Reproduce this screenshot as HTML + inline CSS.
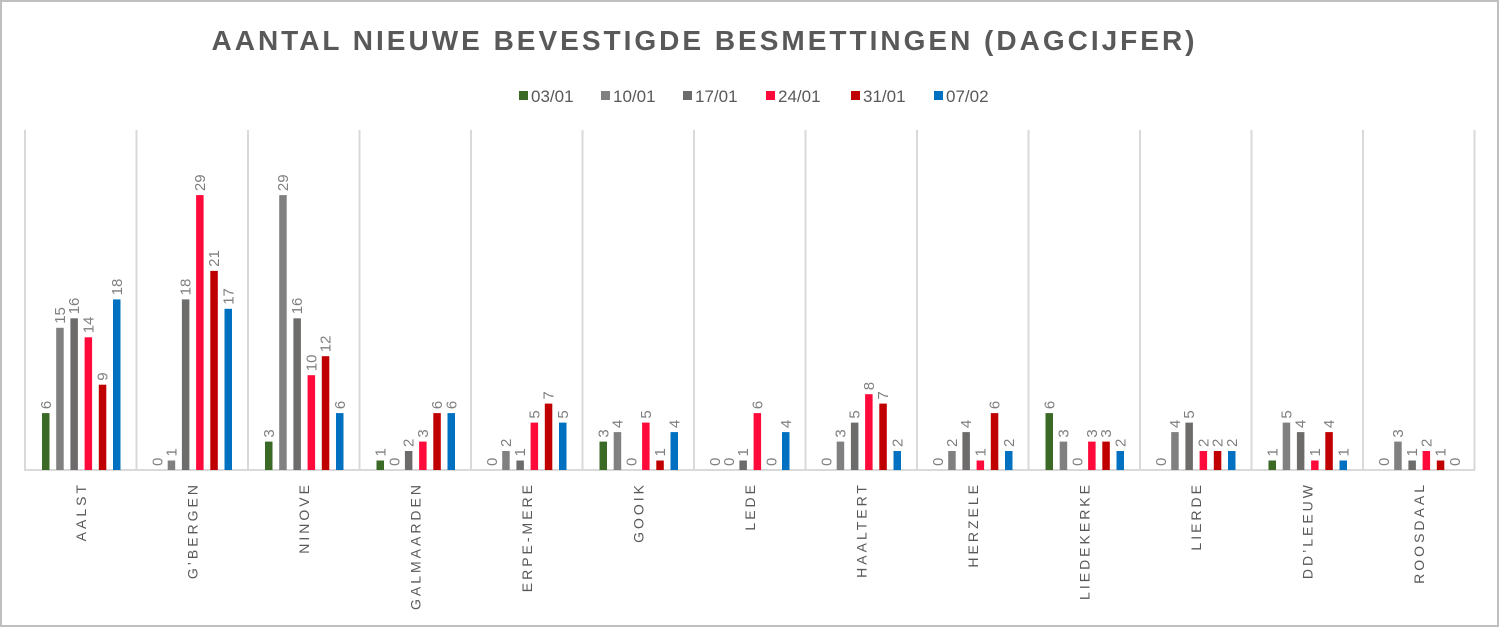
<!DOCTYPE html>
<html><head><meta charset="utf-8"><style>
html,body{margin:0;padding:0;background:#fff}
svg{display:block}
text{font-family:"Liberation Sans",sans-serif}
.v{font-size:15px;fill:#7f7f7f}
.c{font-size:14px;fill:#595959;letter-spacing:3px}
.l{font-size:17px;fill:#595959}
</style></head><body>
<svg width="1500" height="628" viewBox="0 0 1500 628" xmlns="http://www.w3.org/2000/svg">
<rect x="1" y="1" width="1497" height="625" fill="#fff" stroke="#bfbfbf" stroke-width="2"/>
<text x="703" y="50" text-anchor="middle" textLength="983" lengthAdjust="spacing" style="font-size:28px;font-weight:bold;fill:#595959">AANTAL NIEUWE BEVESTIGDE BESMETTINGEN (DAGCIJFER)</text>
<g class="l">
<rect x="519" y="91" width="9" height="9" fill="#3b6a26"/><text x="531" y="102">03/01</text>
<rect x="601" y="91" width="9" height="9" fill="#808080"/><text x="613" y="102">10/01</text>
<rect x="683" y="91" width="9" height="9" fill="#6e6b6b"/><text x="695" y="102">17/01</text>
<rect x="766" y="91" width="9" height="9" fill="#ff0a3a"/><text x="778" y="102">24/01</text>
<rect x="851" y="91" width="9" height="9" fill="#c00000"/><text x="863" y="102">31/01</text>
<rect x="934" y="91" width="9" height="9" fill="#0070c0"/><text x="946" y="102">07/02</text>
</g>
<g stroke="#d9d9d9" stroke-width="2">
<line x1="25" y1="130" x2="25" y2="470"/><line x1="136.5" y1="130" x2="136.5" y2="470"/><line x1="248" y1="130" x2="248" y2="470"/><line x1="359.5" y1="130" x2="359.5" y2="470"/><line x1="471" y1="130" x2="471" y2="470"/><line x1="582.5" y1="130" x2="582.5" y2="470"/><line x1="694" y1="130" x2="694" y2="470"/><line x1="805.5" y1="130" x2="805.5" y2="470"/><line x1="917" y1="130" x2="917" y2="470"/><line x1="1028.5" y1="130" x2="1028.5" y2="470"/><line x1="1140" y1="130" x2="1140" y2="470"/><line x1="1251.5" y1="130" x2="1251.5" y2="470"/><line x1="1363" y1="130" x2="1363" y2="470"/><line x1="1474.5" y1="130" x2="1474.5" y2="470"/>
<line x1="24" y1="470" x2="1475" y2="470"/>
</g>

<g transform="translate(25,0)">
<rect x="17" y="413.1" width="7.5" height="56.9" fill="#3b6a26"/><rect x="31.2" y="327.8" width="7.5" height="142.2" fill="#808080"/><rect x="45.4" y="318.3" width="7.5" height="151.7" fill="#6e6b6b"/><rect x="59.6" y="337.3" width="7.5" height="132.7" fill="#ff0a3a"/><rect x="73.8" y="384.7" width="7.5" height="85.3" fill="#c00000"/><rect x="88" y="299.4" width="7.5" height="170.6" fill="#0070c0"/>
<g class="v"><text transform="translate(25.75,409.1) rotate(-90)">6</text><text transform="translate(39.95,323.8) rotate(-90)">15</text><text transform="translate(54.15,314.3) rotate(-90)">16</text><text transform="translate(68.35,333.3) rotate(-90)">14</text><text transform="translate(82.55,380.7) rotate(-90)">9</text><text transform="translate(96.75,295.4) rotate(-90)">18</text></g>
<text class="c" text-anchor="end" transform="translate(60.75,482) rotate(-90)">AALST</text>
</g>

<g transform="translate(136.5,0)">
<rect x="31.2" y="460.5" width="7.5" height="9.5" fill="#808080"/><rect x="45.4" y="299.4" width="7.5" height="170.6" fill="#6e6b6b"/><rect x="59.6" y="195.1" width="7.5" height="274.9" fill="#ff0a3a"/><rect x="73.8" y="270.9" width="7.5" height="199.1" fill="#c00000"/><rect x="88" y="308.8" width="7.5" height="161.2" fill="#0070c0"/>
<g class="v"><text transform="translate(25.75,466) rotate(-90)">0</text><text transform="translate(39.95,456.5) rotate(-90)">1</text><text transform="translate(54.15,295.4) rotate(-90)">18</text><text transform="translate(68.35,191.1) rotate(-90)">29</text><text transform="translate(82.55,266.9) rotate(-90)">21</text><text transform="translate(96.75,304.8) rotate(-90)">17</text></g>
<text class="c" text-anchor="end" transform="translate(60.75,482) rotate(-90)">G’BERGEN</text>
</g>

<g transform="translate(248,0)">
<rect x="17" y="441.6" width="7.5" height="28.4" fill="#3b6a26"/><rect x="31.2" y="195.1" width="7.5" height="274.9" fill="#808080"/><rect x="45.4" y="318.3" width="7.5" height="151.7" fill="#6e6b6b"/><rect x="59.6" y="375.2" width="7.5" height="94.8" fill="#ff0a3a"/><rect x="73.8" y="356.2" width="7.5" height="113.8" fill="#c00000"/><rect x="88" y="413.1" width="7.5" height="56.9" fill="#0070c0"/>
<g class="v"><text transform="translate(25.75,437.6) rotate(-90)">3</text><text transform="translate(39.95,191.1) rotate(-90)">29</text><text transform="translate(54.15,314.3) rotate(-90)">16</text><text transform="translate(68.35,371.2) rotate(-90)">10</text><text transform="translate(82.55,352.2) rotate(-90)">12</text><text transform="translate(96.75,409.1) rotate(-90)">6</text></g>
<text class="c" text-anchor="end" transform="translate(60.75,482) rotate(-90)">NINOVE</text>
</g>

<g transform="translate(359.5,0)">
<rect x="17" y="460.5" width="7.5" height="9.5" fill="#3b6a26"/><rect x="45.4" y="451" width="7.5" height="19" fill="#6e6b6b"/><rect x="59.6" y="441.6" width="7.5" height="28.4" fill="#ff0a3a"/><rect x="73.8" y="413.1" width="7.5" height="56.9" fill="#c00000"/><rect x="88" y="413.1" width="7.5" height="56.9" fill="#0070c0"/>
<g class="v"><text transform="translate(25.75,456.5) rotate(-90)">1</text><text transform="translate(39.95,466) rotate(-90)">0</text><text transform="translate(54.15,447) rotate(-90)">2</text><text transform="translate(68.35,437.6) rotate(-90)">3</text><text transform="translate(82.55,409.1) rotate(-90)">6</text><text transform="translate(96.75,409.1) rotate(-90)">6</text></g>
<text class="c" text-anchor="end" transform="translate(60.75,482) rotate(-90)">GALMAARDEN</text>
</g>

<g transform="translate(471,0)">
<rect x="31.2" y="451" width="7.5" height="19" fill="#808080"/><rect x="45.4" y="460.5" width="7.5" height="9.5" fill="#6e6b6b"/><rect x="59.6" y="422.6" width="7.5" height="47.4" fill="#ff0a3a"/><rect x="73.8" y="403.6" width="7.5" height="66.4" fill="#c00000"/><rect x="88" y="422.6" width="7.5" height="47.4" fill="#0070c0"/>
<g class="v"><text transform="translate(25.75,466) rotate(-90)">0</text><text transform="translate(39.95,447) rotate(-90)">2</text><text transform="translate(54.15,456.5) rotate(-90)">1</text><text transform="translate(68.35,418.6) rotate(-90)">5</text><text transform="translate(82.55,399.6) rotate(-90)">7</text><text transform="translate(96.75,418.6) rotate(-90)">5</text></g>
<text class="c" text-anchor="end" transform="translate(60.75,482) rotate(-90)">ERPE-MERE</text>
</g>

<g transform="translate(582.5,0)">
<rect x="17" y="441.6" width="7.5" height="28.4" fill="#3b6a26"/><rect x="31.2" y="432.1" width="7.5" height="37.9" fill="#808080"/><rect x="59.6" y="422.6" width="7.5" height="47.4" fill="#ff0a3a"/><rect x="73.8" y="460.5" width="7.5" height="9.5" fill="#c00000"/><rect x="88" y="432.1" width="7.5" height="37.9" fill="#0070c0"/>
<g class="v"><text transform="translate(25.75,437.6) rotate(-90)">3</text><text transform="translate(39.95,428.1) rotate(-90)">4</text><text transform="translate(54.15,466) rotate(-90)">0</text><text transform="translate(68.35,418.6) rotate(-90)">5</text><text transform="translate(82.55,456.5) rotate(-90)">1</text><text transform="translate(96.75,428.1) rotate(-90)">4</text></g>
<text class="c" text-anchor="end" transform="translate(60.75,482) rotate(-90)">GOOIK</text>
</g>

<g transform="translate(694,0)">
<rect x="45.4" y="460.5" width="7.5" height="9.5" fill="#6e6b6b"/><rect x="59.6" y="413.1" width="7.5" height="56.9" fill="#ff0a3a"/><rect x="88" y="432.1" width="7.5" height="37.9" fill="#0070c0"/>
<g class="v"><text transform="translate(25.75,466) rotate(-90)">0</text><text transform="translate(39.95,466) rotate(-90)">0</text><text transform="translate(54.15,456.5) rotate(-90)">1</text><text transform="translate(68.35,409.1) rotate(-90)">6</text><text transform="translate(82.55,466) rotate(-90)">0</text><text transform="translate(96.75,428.1) rotate(-90)">4</text></g>
<text class="c" text-anchor="end" transform="translate(60.75,482) rotate(-90)">LEDE</text>
</g>

<g transform="translate(805.5,0)">
<rect x="31.2" y="441.6" width="7.5" height="28.4" fill="#808080"/><rect x="45.4" y="422.6" width="7.5" height="47.4" fill="#6e6b6b"/><rect x="59.6" y="394.2" width="7.5" height="75.8" fill="#ff0a3a"/><rect x="73.8" y="403.6" width="7.5" height="66.4" fill="#c00000"/><rect x="88" y="451" width="7.5" height="19" fill="#0070c0"/>
<g class="v"><text transform="translate(25.75,466) rotate(-90)">0</text><text transform="translate(39.95,437.6) rotate(-90)">3</text><text transform="translate(54.15,418.6) rotate(-90)">5</text><text transform="translate(68.35,390.2) rotate(-90)">8</text><text transform="translate(82.55,399.6) rotate(-90)">7</text><text transform="translate(96.75,447) rotate(-90)">2</text></g>
<text class="c" text-anchor="end" transform="translate(60.75,482) rotate(-90)">HAALTERT</text>
</g>

<g transform="translate(917,0)">
<rect x="31.2" y="451" width="7.5" height="19" fill="#808080"/><rect x="45.4" y="432.1" width="7.5" height="37.9" fill="#6e6b6b"/><rect x="59.6" y="460.5" width="7.5" height="9.5" fill="#ff0a3a"/><rect x="73.8" y="413.1" width="7.5" height="56.9" fill="#c00000"/><rect x="88" y="451" width="7.5" height="19" fill="#0070c0"/>
<g class="v"><text transform="translate(25.75,466) rotate(-90)">0</text><text transform="translate(39.95,447) rotate(-90)">2</text><text transform="translate(54.15,428.1) rotate(-90)">4</text><text transform="translate(68.35,456.5) rotate(-90)">1</text><text transform="translate(82.55,409.1) rotate(-90)">6</text><text transform="translate(96.75,447) rotate(-90)">2</text></g>
<text class="c" text-anchor="end" transform="translate(60.75,482) rotate(-90)">HERZELE</text>
</g>

<g transform="translate(1028.5,0)">
<rect x="17" y="413.1" width="7.5" height="56.9" fill="#3b6a26"/><rect x="31.2" y="441.6" width="7.5" height="28.4" fill="#808080"/><rect x="59.6" y="441.6" width="7.5" height="28.4" fill="#ff0a3a"/><rect x="73.8" y="441.6" width="7.5" height="28.4" fill="#c00000"/><rect x="88" y="451" width="7.5" height="19" fill="#0070c0"/>
<g class="v"><text transform="translate(25.75,409.1) rotate(-90)">6</text><text transform="translate(39.95,437.6) rotate(-90)">3</text><text transform="translate(54.15,466) rotate(-90)">0</text><text transform="translate(68.35,437.6) rotate(-90)">3</text><text transform="translate(82.55,437.6) rotate(-90)">3</text><text transform="translate(96.75,447) rotate(-90)">2</text></g>
<text class="c" text-anchor="end" transform="translate(60.75,482) rotate(-90)">LIEDEKERKE</text>
</g>

<g transform="translate(1140,0)">
<rect x="31.2" y="432.1" width="7.5" height="37.9" fill="#808080"/><rect x="45.4" y="422.6" width="7.5" height="47.4" fill="#6e6b6b"/><rect x="59.6" y="451" width="7.5" height="19" fill="#ff0a3a"/><rect x="73.8" y="451" width="7.5" height="19" fill="#c00000"/><rect x="88" y="451" width="7.5" height="19" fill="#0070c0"/>
<g class="v"><text transform="translate(25.75,466) rotate(-90)">0</text><text transform="translate(39.95,428.1) rotate(-90)">4</text><text transform="translate(54.15,418.6) rotate(-90)">5</text><text transform="translate(68.35,447) rotate(-90)">2</text><text transform="translate(82.55,447) rotate(-90)">2</text><text transform="translate(96.75,447) rotate(-90)">2</text></g>
<text class="c" text-anchor="end" transform="translate(60.75,482) rotate(-90)">LIERDE</text>
</g>

<g transform="translate(1251.5,0)">
<rect x="17" y="460.5" width="7.5" height="9.5" fill="#3b6a26"/><rect x="31.2" y="422.6" width="7.5" height="47.4" fill="#808080"/><rect x="45.4" y="432.1" width="7.5" height="37.9" fill="#6e6b6b"/><rect x="59.6" y="460.5" width="7.5" height="9.5" fill="#ff0a3a"/><rect x="73.8" y="432.1" width="7.5" height="37.9" fill="#c00000"/><rect x="88" y="460.5" width="7.5" height="9.5" fill="#0070c0"/>
<g class="v"><text transform="translate(25.75,456.5) rotate(-90)">1</text><text transform="translate(39.95,418.6) rotate(-90)">5</text><text transform="translate(54.15,428.1) rotate(-90)">4</text><text transform="translate(68.35,456.5) rotate(-90)">1</text><text transform="translate(82.55,428.1) rotate(-90)">4</text><text transform="translate(96.75,456.5) rotate(-90)">1</text></g>
<text class="c" text-anchor="end" transform="translate(60.75,482) rotate(-90)">DD’LEEUW</text>
</g>

<g transform="translate(1363,0)">
<rect x="31.2" y="441.6" width="7.5" height="28.4" fill="#808080"/><rect x="45.4" y="460.5" width="7.5" height="9.5" fill="#6e6b6b"/><rect x="59.6" y="451" width="7.5" height="19" fill="#ff0a3a"/><rect x="73.8" y="460.5" width="7.5" height="9.5" fill="#c00000"/>
<g class="v"><text transform="translate(25.75,466) rotate(-90)">0</text><text transform="translate(39.95,437.6) rotate(-90)">3</text><text transform="translate(54.15,456.5) rotate(-90)">1</text><text transform="translate(68.35,447) rotate(-90)">2</text><text transform="translate(82.55,456.5) rotate(-90)">1</text><text transform="translate(96.75,466) rotate(-90)">0</text></g>
<text class="c" text-anchor="end" transform="translate(60.75,482) rotate(-90)">ROOSDAAL</text>
</g>
</svg>
</body></html>
